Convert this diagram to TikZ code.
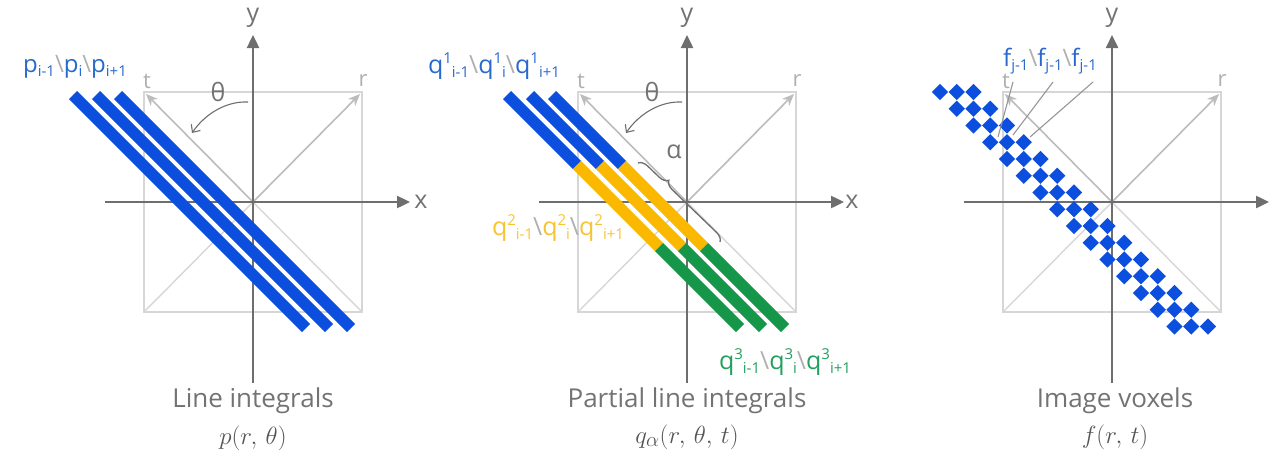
\documentclass[tikz,border=0pt]{standalone}
\usepackage[no-math]{fontspec}
\setmainfont{Open Sans}
\usetikzlibrary{arrows.meta,decorations.pathreplacing}
\definecolor{barblue}{RGB}{12,78,222}
\definecolor{labblue}{RGB}{40,105,205}
\definecolor{baryel}{RGB}{250,184,0}
\definecolor{labyel}{RGB}{246,196,50}
\definecolor{bargreen}{RGB}{22,150,72}
\definecolor{labgreen}{RGB}{35,160,95}
\definecolor{axisgray}{RGB}{110,110,110}
\definecolor{boxgray}{RGB}{214,214,214}
\definecolor{diaggray}{RGB}{188,188,188}
\definecolor{txtgray}{RGB}{115,115,115}
\definecolor{mathgray}{RGB}{85,85,85}
\definecolor{slashgray}{RGB}{175,175,175}
\newcommand{\mysub}[2]{#1\raisebox{-0.3ex}{\fontsize{15}{15}\selectfont #2}}
\newcommand{\mysupsub}[3]{#1\raisebox{0.75ex}{\fontsize{15}{15}\selectfont #2}\raisebox{-0.3ex}{\fontsize{15}{15}\selectfont #3}}
\newcommand{\mysep}{{\color{slashgray}\textbackslash}}
\begin{document}
\begin{tikzpicture}[x=1pt,y=-1pt,
  axis/.style={draw=axisgray, line width=2.4pt, -{Triangle[length=13pt,width=12pt]}},
  boxline/.style={draw=boxgray, line width=1.4pt},
  diagarrow/.style={draw=diaggray, line width=1.6pt, -{Stealth[length=12pt,width=10pt]}},
  bar/.style={line width=11.5pt, line cap=butt},
  axlabel/.style={text=txtgray, font=\fontsize{25}{25}\selectfont, inner sep=0pt},
  dirlabel/.style={text=slashgray, font=\fontsize{22}{22}\selectfont, inner sep=0pt},
  caption/.style={text=txtgray, font=\fontsize{26}{30}\selectfont, anchor=base, inner sep=0pt},
  mathcap/.style={text=mathgray, font=\fontsize{28}{32}\selectfont, anchor=base, inner sep=0pt},
  barlabel/.style={font=\fontsize{24}{28}\selectfont, inner sep=0pt},
  qlabel/.style={font=\fontsize{25}{28}\selectfont, inner sep=0pt},
  thetaarrow/.style={draw=axisgray, line width=1.1pt, -{Straight Barb[length=6pt,width=11pt]}},
  pointer/.style={draw=diaggray!80!black, line width=1.1pt},
  voxel/.style={fill=barblue}]
\useasboundingbox (0,0) rectangle (1273,450);

% common frames
\foreach \ox/\nm in {253/a,687/b,1112/c}{
  \begin{scope}[shift={(\ox,202)}]
    \draw[boxline] (-109,-110) rectangle (109,110);
    \draw[boxline] (0,0) -- (109,110);
    \draw[boxline] (0,0) -- (-109,110);
    \draw[diagarrow] (0,0) -- (-107,-108);
    \draw[diagarrow] (0,0) -- (107,-108);
    \draw[axis] (-148,0) -- (157,0);
    \draw[axis] (0,181) -- (0,-167);
    \node[axlabel] (y\nm) at (0,-184) {y};
    \node[dirlabel] (t\nm) at (-106,-121) {t};
    \node[dirlabel] (r\nm) at (110,-121) {r};
  \end{scope}
}

% ---------- panel 1 ----------
\begin{scope}[shift={(253,202)}]
  \draw[bar, barblue] (-180,-107) -- (53,126);
  \draw[bar, barblue] (-157,-107) -- (76,126);
  \draw[bar, barblue] (-135,-107) -- (98,126);
  \node[axlabel] (xa) at (168,0) {x};
  \node[axlabel] (thetaa) at (-35,-110) {θ};
  \coordinate (tha0) at (-5,-100);
  \coordinate (tha1) at (-61,-69);
  \draw[thetaarrow] (tha0) .. controls (-27,-101) and (-48,-88) .. (tha1);
\end{scope}
\node[barlabel, text=labblue] (plab) at (75,67)
  {\mysub{p}{i-1}\mysep\mysub{p}{i}\mysep\mysub{p}{i+1}};
\node[caption] (cap1) at (253,407) {Line integrals};
\node[mathcap] (math1) at (253,444) {$p(r,\,\theta)$};

% ---------- panel 2 ----------
\begin{scope}[shift={(687,202)}]
  % bar c=73
  \draw[bar, barblue]   (-180,-107) -- (-110,-37);
  \draw[bar, baryel]    (-110,-37) -- (-28,45);
  \draw[bar, bargreen]  (-28,45) -- (53,126);
  % bar c=50
  \draw[bar, barblue]   (-157,-107) -- (-87,-37);
  \draw[bar, baryel]    (-87,-37) -- (-5,45);
  \draw[bar, bargreen]  (-5,45) -- (76,126);
  % bar c=28
  \draw[bar, barblue]   (-135,-107) -- (-65,-37);
  \draw[bar, baryel]    (-65,-37) -- (17,45);
  \draw[bar, bargreen]  (17,45) -- (98,126);
  \node[axlabel] (xb) at (165,0) {x};
  \node[axlabel] (thetab) at (-35,-110) {θ};
  \coordinate (thb0) at (-5,-100);
  \coordinate (thb1) at (-61,-69);
  \draw[thetaarrow] (thb0) .. controls (-27,-101) and (-48,-88) .. (thb1);
  \coordinate (bra) at (-49,-39);
  \coordinate (brb) at (33,40);
  \draw[draw=axisgray, line width=1.3pt, decorate,
        decoration={brace, amplitude=9pt, aspect=0.3}] (bra) -- (brb);
  \node[axlabel] (alpha) at (-13,-50) {α};
\end{scope}
\node[qlabel, text=labblue] (q1lab) at (494,66)
  {\mysupsub{q}{1}{i-1}\mysep\mysupsub{q}{1}{i}\mysep\mysupsub{q}{1}{i+1}};
\node[qlabel, text=labyel] (q2lab) at (558,228)
  {\mysupsub{q}{2}{i-1}\mysep\mysupsub{q}{2}{i}\mysep\mysupsub{q}{2}{i+1}};
\node[qlabel, text=labgreen] (q3lab) at (785,362)
  {\mysupsub{q}{3}{i-1}\mysep\mysupsub{q}{3}{i}\mysep\mysupsub{q}{3}{i+1}};
\node[caption] (cap2) at (687,407) {Partial line integrals};
\node[mathcap] (math2) at (687,443) {$q_\alpha(r,\,\theta,\,t)$};

% ---------- panel 3 ----------
\begin{scope}[shift={(1112,202)}]
  \foreach \r in {0,...,14}{
    \foreach \k in {0,1,2}{
      \fill[voxel] ({-172+(\r+\k)*16.75},{-110+\r*16.75})
        +(-8.1,0) -- +(0,-8.1) -- +(8.1,0) -- +(0,8.1) -- cycle;
    }
  }
\end{scope}
\node[barlabel, text=labblue] (flab) at (1050,61)
  {\mysub{f}{j-1}\mysep\mysub{f}{j-1}\mysep\mysub{f}{j-1}};
\coordinate (fs1) at (1013,82);
\coordinate (fs2) at (1053,82);
\coordinate (fs3) at (1093,82);
\coordinate (fe1) at (998,137);
\coordinate (fe2) at (1013,135);
\coordinate (fe3) at (1030,137);
\draw[pointer] (fs1) -- (fe1);
\draw[pointer] (fs2) -- (fe2);
\draw[pointer] (fs3) -- (fe3);
\node[caption] (cap3) at (1115,407) {Image voxels};
\node[mathcap] (math3) at (1115,443) {$f(r,\,t)$};
\end{tikzpicture}
\end{document}
